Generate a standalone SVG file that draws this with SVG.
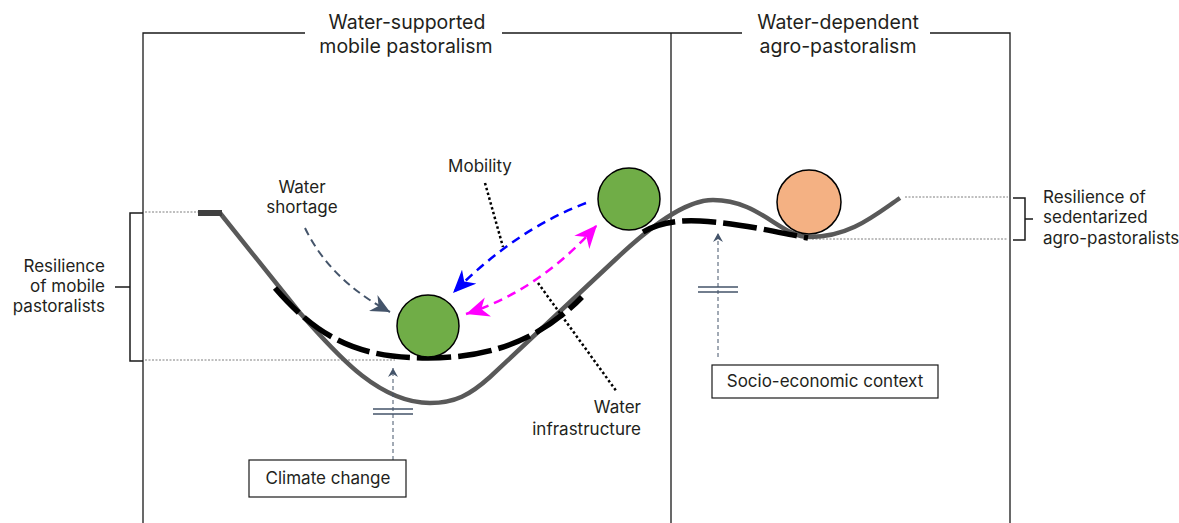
<svg xmlns="http://www.w3.org/2000/svg" width="1179" height="523" viewBox="0 0 1179 523">
  <defs>
    <style>
      text { font-family: Inter, "Liberation Sans", Arial, sans-serif; fill: #231f20; }
      .title { font-size: 19.5px; text-anchor: middle; }
      .lbl { font-size: 17px; }
      .frame { fill: none; stroke: #1a1a1a; stroke-width: 1.3; }
      .bracket { fill: none; stroke: #1a1a1a; stroke-width: 1.5; }
      .guide { fill: none; stroke: #7f7f7f; stroke-width: 1; stroke-dasharray: 2 1.5; }
      .terrain { fill: none; stroke: #595959; stroke-width: 4.5; stroke-linecap: butt; stroke-linejoin: round; }
      .basin { fill: none; stroke: #000; stroke-width: 5.5; stroke-dasharray: 34 7; }
      .pointer { fill: none; stroke: #000; stroke-width: 2.5; stroke-dasharray: 2.5 2.5; }
      .driver { fill: none; stroke: #44546a; stroke-width: 1; stroke-dasharray: 4 3; }
      .bar { stroke: #44546a; stroke-width: 1.5; }
      .ball { stroke: #000; stroke-width: 1.5; }
      .box { fill: #fff; stroke: #1a1a1a; stroke-width: 1.2; }
    </style>
    <marker id="headSlate" markerUnits="userSpaceOnUse" markerWidth="20" markerHeight="18" refX="19" refY="9" orient="auto">
      <path d="M0,0 L19,9 L0,18 L6,9 z" fill="#44546a"/>
    </marker>
    <marker id="headBlue" markerUnits="userSpaceOnUse" markerWidth="24" markerHeight="20" refX="23" refY="10" orient="auto">
      <path d="M0,0 L23,10 L0,20 L7,10 z" fill="#0000ff"/>
    </marker>
    <marker id="headMagenta" markerUnits="userSpaceOnUse" markerWidth="24" markerHeight="20" refX="23" refY="10" orient="auto-start-reverse">
      <path d="M0,0 L23,10 L0,20 L7,10 z" fill="#ff00ff"/>
    </marker>
    <marker id="headSmall" markerUnits="userSpaceOnUse" markerWidth="10" markerHeight="10" refX="9" refY="5" orient="auto">
      <path d="M0,0 L9,5 L0,10 L3,5 z" fill="#44546a"/>
    </marker>
  </defs>

  <!-- outer frame and section titles -->
  <g id="frame">
    <path class="frame" d="M143,523 V33 H305 M502,33 H742 M930,33 H1010 V523 M671,33 V523"/>
    <text class="title" x="407" y="29">Water-supported</text>
    <text class="title" x="406" y="53">mobile pastoralism</text>
    <text class="title" x="838" y="29">Water-dependent</text>
    <text class="title" x="838" y="53">agro-pastoralism</text>
  </g>

  <!-- resilience brackets -->
  <g id="resilience-mobile">
    <path class="guide" d="M145,212 H200 M145,360 H395"/>
    <path class="bracket" d="M143,213 H130 V361 H143 M130,287 H115"/>
    <text class="lbl" text-anchor="end" x="105" y="272">Resilience</text>
    <text class="lbl" text-anchor="end" x="105" y="292">of mobile</text>
    <text class="lbl" text-anchor="end" x="105" y="312">pastoralists</text>
  </g>
  <g id="resilience-sedentary">
    <path class="guide" d="M905,197 H1008 M812,239 H1008"/>
    <path class="bracket" d="M1013,198 H1025 V240 H1013 M1025,219 H1033"/>
    <text class="lbl" x="1043" y="203">Resilience of</text>
    <text class="lbl" x="1043" y="223">sedentarized</text>
    <text class="lbl" x="1043" y="244">agro-pastoralists</text>
  </g>

  <!-- landscape -->
  <g id="terrain">
    <path class="terrain" d="M220,213 L300,313 C330,346 375,403 430,403 C455,403 470,395 490,377 L617,258 C650,227 685,200 713,200 C760,200 780,237 810,237 C850,237 875,215 900,198"/>
    <path d="M198,213 H222" stroke="#404040" stroke-width="6"/>
  </g>
  <g id="basin">
    <path class="basin" d="M275,288 C320,340 360,358 428,358 C490,358 540,340 582,297"/>
    <path class="basin" d="M643,232 C660,222 680,220 700,221 C740,223 780,233 808,238"/>
  </g>

  <!-- balls -->
  <g id="ball-mobile-low"><circle class="ball" cx="428" cy="326" r="31" fill="#70ad47"/></g>
  <g id="ball-mobile-high"><circle class="ball" cx="629" cy="199" r="31" fill="#70ad47"/></g>
  <g id="ball-sedentary"><circle class="ball" cx="809" cy="202" r="32" fill="#f4b183"/></g>

  <!-- connectors -->
  <g id="connectors">
    <path d="M305,228 Q330,280 390,312" fill="none" stroke="#44546a" stroke-width="2" stroke-dasharray="8 5" marker-end="url(#headSlate)"/>
    <path d="M586,203 Q515,230 453,293" fill="none" stroke="#0000ff" stroke-width="2.5" stroke-dasharray="9 6" marker-end="url(#headBlue)"/>
    <path d="M466,314 Q540,290 597,225" fill="none" stroke="#ff00ff" stroke-width="2.5" stroke-dasharray="9 6" marker-start="url(#headMagenta)" marker-end="url(#headMagenta)"/>
    <path class="pointer" d="M485,183 L503,247"/>
    <path class="pointer" d="M538,283 L617,392"/>
    <path class="driver" d="M393,460 V368" marker-end="url(#headSmall)"/>
    <path class="bar" d="M373,409 H413 M373,414 H413"/>
    <path class="driver" d="M718,357 V233" marker-end="url(#headSmall)"/>
    <path class="bar" d="M698,287 H738 M698,292 H738"/>
  </g>

  <!-- labels -->
  <g id="label-water-shortage">
    <text class="lbl" text-anchor="middle" x="302" y="193">Water</text>
    <text class="lbl" text-anchor="middle" x="302" y="213">shortage</text>
  </g>
  <g id="label-mobility">
    <text class="lbl" text-anchor="middle" x="480" y="172">Mobility</text>
  </g>
  <g id="label-water-infrastructure">
    <text class="lbl" text-anchor="end" x="641" y="413">Water</text>
    <text class="lbl" text-anchor="end" x="641" y="435">infrastructure</text>
  </g>
  <g id="climate-change">
    <rect class="box" x="249" y="460" width="157" height="37"/>
    <text class="lbl" text-anchor="middle" x="328" y="484">Climate change</text>
  </g>
  <g id="socio-economic-context">
    <rect class="box" x="712" y="365" width="226" height="33"/>
    <text class="lbl" text-anchor="middle" x="825" y="387">Socio-economic context</text>
  </g>
</svg>
